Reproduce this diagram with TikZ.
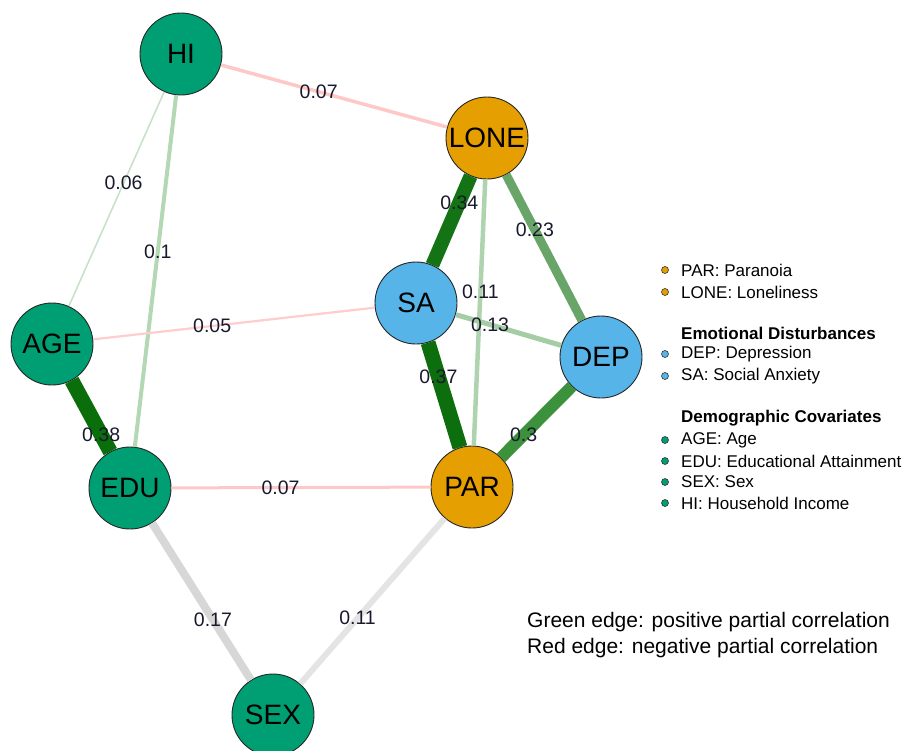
\documentclass[tikz,border=0pt]{standalone}
\usepackage{fontspec}
\setmainfont{Liberation Sans}
\usetikzlibrary{calc}
\definecolor{ngreen}{RGB}{0,158,115}
\definecolor{norange}{RGB}{230,159,0}
\definecolor{nblue}{RGB}{86,180,233}
\definecolor{lblcol}{RGB}{25,25,45}
\begin{document}
\begin{tikzpicture}[x=1pt,y=-1pt,
  vtx/.style={circle,draw=black!85,line width=0.9pt,minimum size=82pt,inner sep=0pt,font=\fontsize{28}{30}\selectfont},
  lbl/.style={font=\fontsize{19.5}{21}\selectfont,text=lblcol,inner sep=1pt},
  leg/.style={font=\fontsize{17}{19}\selectfont,anchor=west,inner sep=0pt},
  legb/.style={font=\fontsize{17}{19}\selectfont\bfseries,anchor=west,inner sep=0pt},
  dot/.style={circle,draw=black!80,line width=0.6pt,minimum size=7pt,inner sep=0pt},
  note/.style={font=\fontsize{21}{23}\selectfont,anchor=west,inner sep=0pt}]
\useasboundingbox (0,0) rectangle (909,750);
% nodes
\node[vtx,fill=ngreen] (HI) at (181,54) {HI};
\node[vtx,fill=norange] (LONE) at (487,138) {LONE};
\node[vtx,fill=nblue] (SA) at (416,303) {SA};
\node[vtx,fill=nblue] (DEP) at (601,357) {DEP};
\node[vtx,fill=ngreen] (AGE) at (52,344) {AGE};
\node[vtx,fill=ngreen] (EDU) at (130,488) {EDU};
\node[vtx,fill=norange] (PAR) at (472,487) {PAR};
\node[vtx,fill=ngreen] (SEX) at (273,715) {SEX};
% edges
\draw[line width=3.5pt,color={rgb,255:red,255;green,200;blue,200}] (HI) -- (LONE);
\draw[line width=1.6pt,color={rgb,255:red,200;green,225;blue,200}] (HI) -- (AGE);
\draw[line width=4pt,color={rgb,255:red,180;green,215;blue,180}] (HI) -- (EDU);
\draw[line width=2.2pt,color={rgb,255:red,255;green,205;blue,205}] (AGE) -- (SA);
\draw[line width=15pt,color={rgb,255:red,10;green,110;blue,10}] (AGE) -- (EDU);
\draw[line width=3pt,color={rgb,255:red,255;green,200;blue,200}] (EDU) -- (PAR);
\draw[line width=8pt,color={rgb,255:red,215;green,215;blue,215}] (EDU) -- (SEX);
\draw[line width=6pt,color={rgb,255:red,228;green,228;blue,228}] (PAR) -- (SEX);
\draw[line width=14pt,color={rgb,255:red,20;green,115;blue,20}] (LONE) -- (SA);
\draw[line width=9pt,color={rgb,255:red,105;green,165;blue,105}] (LONE) -- (DEP);
\draw[line width=4.5pt,color={rgb,255:red,175;green,210;blue,175}] (LONE) -- (PAR);
\draw[line width=5pt,color={rgb,255:red,165;green,205;blue,165}] (SA) -- (DEP);
\draw[line width=15pt,color={rgb,255:red,12;green,110;blue,12}] (SA) -- (PAR);
\draw[line width=12pt,color={rgb,255:red,60;green,145;blue,60}] (DEP) -- (PAR);
% edge labels
\node[lbl] (l1) at ($(HI)!0.45!(LONE)$) {0.07};
\node[lbl] (l2) at ($(HI)!0.445!(AGE)$) {0.06};
\node[lbl] (l3) at ($(HI)!0.455!(EDU)$) {0.1};
\node[lbl] (l4) at ($(AGE)!0.44!(SA)$) {0.05};
\node[lbl] (l5) at ($(AGE)!0.63!(EDU)$) {0.38};
\node[lbl] (l6) at ($(EDU)!0.44!(PAR)$) {0.07};
\node[lbl] (l7) at ($(EDU)!0.58!(SEX)$) {0.17};
\node[lbl] (l8) at ($(PAR)!0.575!(SEX)$) {0.11};
\node[lbl] (l9) at ($(LONE)!0.39!(SA)$) {0.34};
\node[lbl] (l10) at ($(LONE)!0.42!(DEP)$) {0.23};
\node[lbl] (l11) at ($(LONE)!0.44!(PAR)$) {0.11};
\node[lbl] (l12) at ($(SA)!0.40!(DEP)$) {0.13};
\node[lbl] (l13) at ($(SA)!0.40!(PAR)$) {0.37};
\node[lbl] (l14) at ($(DEP)!0.6!(PAR)$) {0.3};
% legend
\node[dot,fill=norange] (d1) at (665,270) {};
\node[leg] (t1) at (681,270) {PAR: Paranoia};
\node[dot,fill=norange] (d2) at (665,292) {};
\node[leg] (t2) at (681,292) {LONE: Loneliness};
\node[legb] (h1) at (681,333) {Emotional Disturbances};
\node[dot,fill=nblue] (d3) at (665,354) {};
\node[leg] (t3) at (681,354) {DEP: Depression};
\node[dot,fill=nblue] (d4) at (665,376) {};
\node[leg] (t4) at (681,376) {SA: Social Anxiety};
\node[legb] (h2) at (681,418) {Demographic Covariates};
\node[dot,fill=ngreen] (d5) at (665,440) {};
\node[leg] (t5) at (681,440) {AGE: Age};
\node[dot,fill=ngreen] (d6) at (665,461) {};
\node[leg] (t6) at (681,461) {EDU: Educational Attainment};
\node[dot,fill=ngreen] (d7) at (665,482) {};
\node[leg] (t7) at (681,482) {SEX: Sex};
\node[dot,fill=ngreen] (d8) at (665,503) {};
\node[leg] (t8) at (681,503) {HI: Household Income};
% notes
\node[note] (n1) at (527,622) {Green edge: positive partial correlation};
\node[note] (n2) at (527,648) {Red edge: negative partial correlation};
\end{tikzpicture}
\end{document}
